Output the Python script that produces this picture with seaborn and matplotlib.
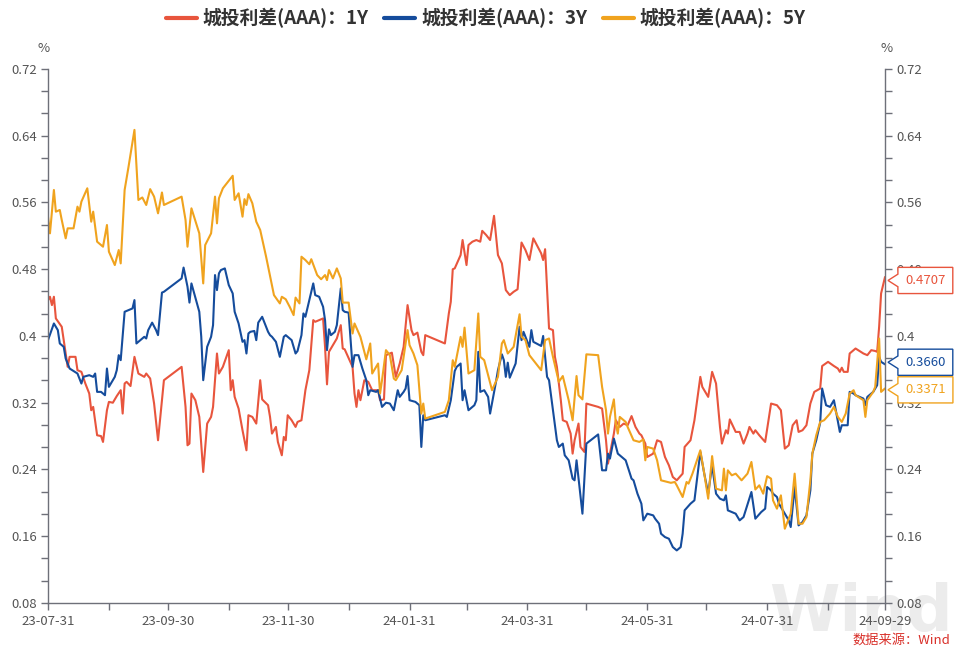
import numpy as np
import pandas as pd
import matplotlib
matplotlib.use("Agg")
import matplotlib.pyplot as plt
from matplotlib.lines import Line2D
from matplotlib.path import Path
from matplotlib.ticker import FixedLocator, FuncFormatter, AutoMinorLocator
import seaborn as sns

# series names / colours
LABELS = ["城投利差(AAA)：1Y", "城投利差(AAA)：3Y", "城投利差(AAA)：5Y"]
COLORS = ["#e8553d", "#154c9c", "#f0a31e"]

# 1Y spread (%)
DATES_1Y = [
    "23-07-31", "23-08-01", "23-08-02", "23-08-03", "23-08-04", "23-08-07", "23-08-08", "23-08-09", "23-08-10", "23-08-11",
    "23-08-14", "23-08-15", "23-08-17", "23-08-19", "23-08-21", "23-08-22", "23-08-23", "23-08-25", "23-08-27", "23-08-28",
    "23-08-30", "23-08-31", "23-09-02", "23-09-04", "23-09-06", "23-09-07", "23-09-08", "23-09-09", "23-09-11", "23-09-13",
    "23-09-15", "23-09-18", "23-09-19", "23-09-21", "23-09-23", "23-09-25", "23-09-28", "23-10-07", "23-10-09", "23-10-10",
    "23-10-11", "23-10-12", "23-10-14", "23-10-16", "23-10-18", "23-10-20", "23-10-22", "23-10-23", "23-10-25", "23-10-26",
    "23-10-28", "23-10-31", "23-11-01", "23-11-02", "23-11-03", "23-11-05", "23-11-07", "23-11-09", "23-11-10", "23-11-12",
    "23-11-14", "23-11-16", "23-11-17", "23-11-20", "23-11-21", "23-11-22", "23-11-24", "23-11-25", "23-11-27", "23-11-28",
    "23-11-29", "23-11-30", "23-12-02", "23-12-04", "23-12-05", "23-12-07", "23-12-09", "23-12-11", "23-12-13", "23-12-14",
    "23-12-16", "23-12-18", "23-12-19", "23-12-20", "23-12-21", "23-12-23", "23-12-25", "23-12-27", "23-12-28", "23-12-29",
    "24-01-02", "24-01-03", "24-01-04", "24-01-05", "24-01-06", "24-01-08", "24-01-10", "24-01-12", "24-01-15", "24-01-16",
    "24-01-18", "24-01-19", "24-01-22", "24-01-24", "24-01-26", "24-01-28", "24-01-30", "24-02-01", "24-02-02", "24-02-04",
    "24-02-06", "24-02-07", "24-02-08", "24-02-18", "24-02-20", "24-02-21", "24-02-22", "24-02-23", "24-02-26", "24-02-27",
    "24-02-29", "24-03-01", "24-03-03", "24-03-05", "24-03-07", "24-03-08", "24-03-10", "24-03-12", "24-03-14", "24-03-16",
    "24-03-18", "24-03-20", "24-03-22", "24-03-24", "24-03-26", "24-03-28", "24-03-30", "24-04-01", "24-04-03", "24-04-07",
    "24-04-08", "24-04-09", "24-04-11", "24-04-13", "24-04-14", "24-04-15", "24-04-17", "24-04-18", "24-04-20", "24-04-22",
    "24-04-23", "24-04-24", "24-04-26", "24-04-27", "24-04-29", "24-04-30", "24-05-06", "24-05-08", "24-05-10", "24-05-11",
    "24-05-12", "24-05-14", "24-05-15", "24-05-17", "24-05-19", "24-05-21", "24-05-23", "24-05-25", "24-05-27", "24-05-28",
    "24-05-30", "24-05-31", "24-06-03", "24-06-05", "24-06-07", "24-06-09", "24-06-11", "24-06-13", "24-06-15", "24-06-18",
    "24-06-19", "24-06-22", "24-06-24", "24-06-27", "24-06-28", "24-07-01", "24-07-03", "24-07-05", "24-07-07", "24-07-08",
    "24-07-10", "24-07-11", "24-07-12", "24-07-15", "24-07-17", "24-07-19", "24-07-21", "24-07-22", "24-07-24", "24-07-25",
    "24-07-27", "24-07-30", "24-08-02", "24-08-05", "24-08-07", "24-08-09", "24-08-11", "24-08-13", "24-08-15", "24-08-16",
    "24-08-18", "24-08-20", "24-08-22", "24-08-24", "24-08-27", "24-08-28", "24-08-31", "24-09-03", "24-09-05", "24-09-06",
    "24-09-07", "24-09-08", "24-09-10", "24-09-11", "24-09-14", "24-09-18", "24-09-20", "24-09-22", "24-09-24", "24-09-25",
    "24-09-26", "24-09-27", "24-09-29",
]
VALUES_1Y = [
    0.443, 0.447, 0.437, 0.447, 0.421, 0.411, 0.395, 0.379, 0.363, 0.375,
    0.375, 0.359, 0.357, 0.343, 0.331, 0.311, 0.315, 0.281, 0.280, 0.273,
    0.311, 0.321, 0.320, 0.328, 0.335, 0.307, 0.343, 0.345, 0.340, 0.375,
    0.355, 0.351, 0.355, 0.349, 0.319, 0.275, 0.347, 0.363, 0.315, 0.269,
    0.271, 0.331, 0.323, 0.303, 0.237, 0.295, 0.303, 0.315, 0.379, 0.355,
    0.363, 0.383, 0.335, 0.347, 0.327, 0.313, 0.287, 0.263, 0.305, 0.303,
    0.295, 0.347, 0.324, 0.317, 0.303, 0.283, 0.291, 0.273, 0.257, 0.279,
    0.275, 0.305, 0.299, 0.291, 0.297, 0.299, 0.335, 0.359, 0.419, 0.417,
    0.419, 0.421, 0.387, 0.342, 0.381, 0.389, 0.397, 0.413, 0.385, 0.384,
    0.363, 0.331, 0.315, 0.335, 0.323, 0.347, 0.345, 0.335, 0.335, 0.323,
    0.324, 0.377, 0.380, 0.351, 0.367, 0.387, 0.437, 0.407, 0.401, 0.404,
    0.381, 0.377, 0.401, 0.391, 0.427, 0.441, 0.480, 0.481, 0.497, 0.515,
    0.485, 0.509, 0.513, 0.515, 0.513, 0.526, 0.521, 0.515, 0.544, 0.497,
    0.487, 0.455, 0.449, 0.453, 0.456, 0.512, 0.503, 0.491, 0.517, 0.499,
    0.491, 0.504, 0.409, 0.407, 0.375, 0.363, 0.323, 0.299, 0.297, 0.283,
    0.259, 0.275, 0.295, 0.267, 0.261, 0.319, 0.315, 0.313, 0.275, 0.247,
    0.259, 0.283, 0.299, 0.291, 0.295, 0.293, 0.304, 0.291, 0.283, 0.281,
    0.271, 0.255, 0.259, 0.275, 0.273, 0.255, 0.245, 0.231, 0.227, 0.235,
    0.267, 0.275, 0.299, 0.351, 0.339, 0.327, 0.357, 0.343, 0.291, 0.271,
    0.287, 0.283, 0.300, 0.285, 0.285, 0.271, 0.283, 0.291, 0.283, 0.287,
    0.281, 0.273, 0.319, 0.317, 0.311, 0.265, 0.269, 0.293, 0.299, 0.285,
    0.287, 0.293, 0.319, 0.333, 0.337, 0.364, 0.369, 0.364, 0.361, 0.357,
    0.362, 0.357, 0.357, 0.379, 0.385, 0.379, 0.377, 0.383, 0.382, 0.381,
    0.411, 0.451, 0.4707,
]

# 3Y spread (%)
DATES_3Y = [
    "23-07-31", "23-08-03", "23-08-05", "23-08-06", "23-08-08", "23-08-09", "23-08-11", "23-08-13", "23-08-15", "23-08-17",
    "23-08-18", "23-08-21", "23-08-23", "23-08-24", "23-08-25", "23-08-27", "23-08-29", "23-08-30", "23-08-31", "23-09-03",
    "23-09-04", "23-09-05", "23-09-06", "23-09-08", "23-09-10", "23-09-12", "23-09-13", "23-09-14", "23-09-16", "23-09-18",
    "23-09-19", "23-09-20", "23-09-22", "23-09-24", "23-09-25", "23-09-27", "23-09-28", "23-10-07", "23-10-08", "23-10-10",
    "23-10-11", "23-10-12", "23-10-16", "23-10-17", "23-10-18", "23-10-20", "23-10-22", "23-10-23", "23-10-24", "23-10-25",
    "23-10-26", "23-10-27", "23-10-29", "23-10-31", "23-11-02", "23-11-03", "23-11-05", "23-11-07", "23-11-08", "23-11-09",
    "23-11-10", "23-11-11", "23-11-13", "23-11-14", "23-11-15", "23-11-17", "23-11-19", "23-11-20", "23-11-21", "23-11-22",
    "23-11-24", "23-11-26", "23-11-28", "23-11-29", "23-12-02", "23-12-04", "23-12-05", "23-12-07", "23-12-08", "23-12-09",
    "23-12-11", "23-12-13", "23-12-14", "23-12-16", "23-12-18", "23-12-19", "23-12-20", "23-12-21", "23-12-22", "23-12-24",
    "23-12-25", "23-12-27", "23-12-28", "23-12-29", "23-12-31", "24-01-02", "24-01-03", "24-01-05", "24-01-07", "24-01-09",
    "24-01-10", "24-01-11", "24-01-14", "24-01-15", "24-01-17", "24-01-19", "24-01-21", "24-01-23", "24-01-25", "24-01-26",
    "24-01-28", "24-01-29", "24-01-30", "24-01-31", "24-02-03", "24-02-05", "24-02-06", "24-02-07", "24-02-08", "24-02-18",
    "24-02-19", "24-02-21", "24-02-23", "24-02-24", "24-02-26", "24-02-27", "24-02-28", "24-03-01", "24-03-04", "24-03-05",
    "24-03-06", "24-03-07", "24-03-09", "24-03-11", "24-03-12", "24-03-15", "24-03-16", "24-03-18", "24-03-19", "24-03-20",
    "24-03-21", "24-03-22", "24-03-25", "24-03-27", "24-03-28", "24-03-29", "24-04-01", "24-04-02", "24-04-03", "24-04-07",
    "24-04-08", "24-04-10", "24-04-11", "24-04-13", "24-04-15", "24-04-16", "24-04-18", "24-04-19", "24-04-21", "24-04-23",
    "24-04-24", "24-04-25", "24-04-28", "24-04-30", "24-05-06", "24-05-08", "24-05-10", "24-05-11", "24-05-12", "24-05-14",
    "24-05-16", "24-05-17", "24-05-20", "24-05-23", "24-05-24", "24-05-26", "24-05-28", "24-05-29", "24-05-31", "24-06-03",
    "24-06-04", "24-06-06", "24-06-07", "24-06-09", "24-06-11", "24-06-13", "24-06-15", "24-06-17", "24-06-18", "24-06-19",
    "24-06-22", "24-06-24", "24-06-27", "24-06-29", "24-07-01", "24-07-03", "24-07-05", "24-07-07", "24-07-09", "24-07-10",
    "24-07-11", "24-07-13", "24-07-15", "24-07-17", "24-07-19", "24-07-23", "24-07-25", "24-07-28", "24-07-30", "24-07-31",
    "24-08-02", "24-08-03", "24-08-05", "24-08-06", "24-08-09", "24-08-11", "24-08-12", "24-08-14", "24-08-16", "24-08-18",
    "24-08-20", "24-08-22", "24-08-23", "24-08-25", "24-08-27", "24-08-28", "24-08-30", "24-09-01", "24-09-03", "24-09-06",
    "24-09-07", "24-09-10", "24-09-11", "24-09-13", "24-09-14", "24-09-18", "24-09-19", "24-09-20", "24-09-23", "24-09-24",
    "24-09-25", "24-09-26", "24-09-27", "24-09-29",
]
VALUES_3Y = [
    0.395, 0.415, 0.407, 0.391, 0.387, 0.373, 0.361, 0.358, 0.355, 0.343,
    0.351, 0.353, 0.351, 0.355, 0.333, 0.333, 0.329, 0.361, 0.339, 0.351,
    0.359, 0.377, 0.371, 0.429, 0.431, 0.433, 0.443, 0.391, 0.395, 0.399,
    0.397, 0.407, 0.416, 0.407, 0.401, 0.452, 0.453, 0.469, 0.482, 0.459,
    0.440, 0.463, 0.429, 0.399, 0.347, 0.387, 0.399, 0.413, 0.473, 0.455,
    0.475, 0.479, 0.481, 0.461, 0.451, 0.429, 0.415, 0.393, 0.395, 0.379,
    0.403, 0.405, 0.406, 0.395, 0.416, 0.423, 0.411, 0.405, 0.401, 0.399,
    0.393, 0.375, 0.399, 0.401, 0.395, 0.379, 0.382, 0.401, 0.427, 0.423,
    0.443, 0.463, 0.449, 0.447, 0.435, 0.419, 0.383, 0.408, 0.401, 0.405,
    0.413, 0.457, 0.431, 0.429, 0.428, 0.363, 0.377, 0.377, 0.361, 0.347,
    0.329, 0.335, 0.333, 0.335, 0.315, 0.320, 0.319, 0.311, 0.335, 0.327,
    0.333, 0.337, 0.352, 0.323, 0.321, 0.317, 0.267, 0.305, 0.299, 0.305,
    0.303, 0.323, 0.358, 0.363, 0.367, 0.323, 0.335, 0.311, 0.317, 0.323,
    0.381, 0.333, 0.335, 0.327, 0.307, 0.345, 0.359, 0.378, 0.371, 0.351,
    0.368, 0.350, 0.367, 0.411, 0.395, 0.405, 0.387, 0.407, 0.393, 0.388,
    0.400, 0.351, 0.347, 0.311, 0.275, 0.267, 0.271, 0.257, 0.251, 0.229,
    0.227, 0.251, 0.187, 0.271, 0.282, 0.239, 0.239, 0.259, 0.253, 0.277,
    0.259, 0.257, 0.251, 0.229, 0.227, 0.211, 0.199, 0.179, 0.187, 0.185,
    0.181, 0.175, 0.163, 0.159, 0.157, 0.147, 0.143, 0.147, 0.163, 0.191,
    0.199, 0.203, 0.261, 0.235, 0.211, 0.245, 0.211, 0.205, 0.203, 0.209,
    0.191, 0.189, 0.187, 0.179, 0.183, 0.213, 0.181, 0.189, 0.193, 0.219,
    0.215, 0.211, 0.207, 0.199, 0.187, 0.179, 0.171, 0.219, 0.173, 0.177,
    0.185, 0.215, 0.259, 0.275, 0.296, 0.337, 0.317, 0.315, 0.323, 0.285,
    0.293, 0.293, 0.333, 0.331, 0.329, 0.325, 0.317, 0.327, 0.333, 0.337,
    0.341, 0.375, 0.369, 0.3660,
]

# 5Y spread (%)
DATES_5Y = [
    "23-07-31", "23-08-01", "23-08-03", "23-08-04", "23-08-06", "23-08-07", "23-08-09", "23-08-10", "23-08-13", "23-08-15",
    "23-08-16", "23-08-17", "23-08-20", "23-08-22", "23-08-23", "23-08-25", "23-08-28", "23-08-30", "23-08-31", "23-09-03",
    "23-09-05", "23-09-06", "23-09-08", "23-09-10", "23-09-13", "23-09-15", "23-09-17", "23-09-19", "23-09-21", "23-09-23",
    "23-09-25", "23-09-27", "23-09-28", "23-10-07", "23-10-09", "23-10-10", "23-10-12", "23-10-16", "23-10-18", "23-10-19",
    "23-10-22", "23-10-24", "23-10-25", "23-10-26", "23-10-28", "23-11-02", "23-11-03", "23-11-05", "23-11-07", "23-11-08",
    "23-11-09", "23-11-10", "23-11-12", "23-11-14", "23-11-16", "23-11-19", "23-11-23", "23-11-26", "23-11-27", "23-11-29",
    "23-12-01", "23-12-03", "23-12-04", "23-12-06", "23-12-07", "23-12-09", "23-12-11", "23-12-12", "23-12-15", "23-12-17",
    "23-12-19", "23-12-20", "23-12-21", "23-12-23", "23-12-25", "23-12-27", "23-12-28", "23-12-31", "24-01-02", "24-01-03",
    "24-01-06", "24-01-09", "24-01-11", "24-01-12", "24-01-15", "24-01-16", "24-01-17", "24-01-19", "24-01-21", "24-01-23",
    "24-01-24", "24-01-27", "24-01-30", "24-01-31", "24-02-02", "24-02-04", "24-02-06", "24-02-07", "24-02-08", "24-02-18",
    "24-02-20", "24-02-22", "24-02-23", "24-02-26", "24-02-27", "24-02-28", "24-03-01", "24-03-04", "24-03-06", "24-03-07",
    "24-03-09", "24-03-13", "24-03-16", "24-03-18", "24-03-19", "24-03-21", "24-03-24", "24-03-27", "24-03-28", "24-03-30",
    "24-04-01", "24-04-03", "24-04-07", "24-04-09", "24-04-11", "24-04-13", "24-04-16", "24-04-18", "24-04-21", "24-04-23",
    "24-04-25", "24-04-26", "24-04-28", "24-04-30", "24-05-06", "24-05-08", "24-05-10", "24-05-11", "24-05-12", "24-05-14",
    "24-05-15", "24-05-16", "24-05-17", "24-05-20", "24-05-21", "24-05-24", "24-05-27", "24-05-29", "24-05-30", "24-05-31",
    "24-06-03", "24-06-05", "24-06-07", "24-06-12", "24-06-14", "24-06-15", "24-06-18", "24-06-20", "24-06-21", "24-06-23",
    "24-06-27", "24-06-29", "24-07-01", "24-07-03", "24-07-05", "24-07-08", "24-07-09", "24-07-10", "24-07-11", "24-07-13",
    "24-07-15", "24-07-18", "24-07-21", "24-07-23", "24-07-25", "24-07-27", "24-07-29", "24-07-31", "24-08-02", "24-08-03",
    "24-08-05", "24-08-07", "24-08-09", "24-08-10", "24-08-12", "24-08-14", "24-08-16", "24-08-18", "24-08-20", "24-08-22",
    "24-08-23", "24-08-25", "24-08-27", "24-08-29", "24-09-01", "24-09-03", "24-09-05", "24-09-07", "24-09-09", "24-09-11",
    "24-09-13", "24-09-14", "24-09-18", "24-09-19", "24-09-20", "24-09-23", "24-09-24", "24-09-26", "24-09-27", "24-09-29",
]
VALUES_5Y = [
    0.543, 0.523, 0.575, 0.549, 0.551, 0.539, 0.517, 0.529, 0.529, 0.555,
    0.549, 0.561, 0.577, 0.537, 0.549, 0.513, 0.507, 0.533, 0.501, 0.485,
    0.503, 0.487, 0.575, 0.603, 0.647, 0.563, 0.566, 0.557, 0.576, 0.567,
    0.547, 0.572, 0.557, 0.567, 0.539, 0.507, 0.553, 0.523, 0.463, 0.509,
    0.523, 0.567, 0.535, 0.565, 0.577, 0.592, 0.563, 0.571, 0.543, 0.564,
    0.557, 0.570, 0.559, 0.537, 0.527, 0.495, 0.449, 0.439, 0.447, 0.444,
    0.435, 0.425, 0.446, 0.439, 0.495, 0.491, 0.486, 0.492, 0.473, 0.468,
    0.473, 0.467, 0.479, 0.469, 0.481, 0.469, 0.440, 0.440, 0.403, 0.415,
    0.399, 0.372, 0.391, 0.355, 0.367, 0.331, 0.347, 0.383, 0.377, 0.349,
    0.347, 0.359, 0.407, 0.389, 0.379, 0.365, 0.307, 0.319, 0.301, 0.309,
    0.323, 0.371, 0.363, 0.399, 0.387, 0.410, 0.355, 0.359, 0.427, 0.375,
    0.371, 0.335, 0.351, 0.391, 0.395, 0.379, 0.387, 0.426, 0.399, 0.395,
    0.377, 0.371, 0.359, 0.395, 0.397, 0.375, 0.345, 0.352, 0.323, 0.299,
    0.352, 0.329, 0.324, 0.378, 0.377, 0.339, 0.311, 0.283, 0.303, 0.324,
    0.295, 0.283, 0.303, 0.297, 0.291, 0.275, 0.273, 0.276, 0.251, 0.267,
    0.265, 0.251, 0.227, 0.224, 0.225, 0.221, 0.207, 0.225, 0.223, 0.235,
    0.263, 0.235, 0.205, 0.256, 0.217, 0.215, 0.241, 0.215, 0.239, 0.233,
    0.235, 0.227, 0.235, 0.249, 0.216, 0.221, 0.211, 0.232, 0.229, 0.203,
    0.193, 0.209, 0.169, 0.175, 0.187, 0.235, 0.175, 0.175, 0.183, 0.227,
    0.259, 0.281, 0.297, 0.299, 0.307, 0.315, 0.303, 0.297, 0.307, 0.331,
    0.335, 0.329, 0.323, 0.303, 0.323, 0.333, 0.339, 0.397, 0.333, 0.3371,
]

# axis ticks
Y_TICKS = [0.08, 0.16, 0.24, 0.32, 0.40, 0.48, 0.56, 0.64, 0.72]
X_LABEL_DATES = ["23-07-31", "23-09-30", "23-11-30", "24-01-31", "24-03-31", "24-05-31", "24-07-31", "24-09-29"]
X_MINOR_DATES = ["23-08-31", "23-10-31", "23-12-31", "24-02-29", "24-04-30", "24-06-30", "24-08-31"]

FONTS = ["Noto Sans CJK SC", "DejaVu Sans"]
AXIS_COLOR = "#6e7079"
TEXT_COLOR = "#555555"

frames = []
for label, d, v in zip(LABELS, [DATES_1Y, DATES_3Y, DATES_5Y], [VALUES_1Y, VALUES_3Y, VALUES_5Y]):
    frames.append(pd.DataFrame({
        "date": pd.to_datetime(d, format="%y-%m-%d"),
        "spread": v,
        "series": label,
    }))
df = pd.concat(frames, ignore_index=True)

sns.set_theme(style="white")
plt.rcParams["font.family"] = FONTS
plt.rcParams["axes.unicode_minus"] = False

fig = plt.figure(figsize=(9.6, 6.52), dpi=100)
ax = fig.add_axes([0.05, 0.0752, 0.8719, 0.819])
ax.patch.set_alpha(0)

sns.lineplot(data=df, x="date", y="spread", hue="series", hue_order=LABELS,
             palette=dict(zip(LABELS, COLORS)), estimator=None, linewidth=1.5,
             legend=False, ax=ax)

x0 = pd.to_datetime(X_LABEL_DATES[0], format="%y-%m-%d")
x1 = pd.to_datetime(X_LABEL_DATES[-1], format="%y-%m-%d")
ax.set_xlim(x0, x1)
ax.set_ylim(Y_TICKS[0], Y_TICKS[-1])
ax.set_xlabel("")
ax.set_ylabel("")

# x axis: labelled month ends + unlabelled ones in between
ax.set_xticks(pd.to_datetime(X_LABEL_DATES, format="%y-%m-%d"))
ax.set_xticklabels(X_LABEL_DATES)
ax.set_xticks(pd.to_datetime(X_MINOR_DATES, format="%y-%m-%d"), minor=True)

fmt = FuncFormatter(lambda v, _: f"{v:g}")

ax2 = ax.twinx()
for a in (ax, ax2):
    a.set_ylim(Y_TICKS[0], Y_TICKS[-1])
    a.yaxis.set_major_locator(FixedLocator(Y_TICKS))
    a.yaxis.set_major_formatter(fmt)
    a.yaxis.set_minor_locator(AutoMinorLocator(3))
    a.tick_params(which="both", direction="out", length=5, width=1, color=AXIS_COLOR,
                  labelcolor=TEXT_COLOR, labelsize=9.5, pad=3)
    for s in a.spines.values():
        s.set_color(AXIS_COLOR)
        s.set_linewidth(1)
    a.spines["top"].set_visible(False)
    a.set_ylabel("")
    a.grid(False)
ax.tick_params(axis="x", which="both", bottom=True, pad=4)
ax.spines["right"].set_visible(False)
ax2.spines["left"].set_visible(False)
ax2.spines["bottom"].set_visible(False)

# unit labels
ax.annotate("%", xy=(0, 1), xycoords="axes fraction", xytext=(-3, 15),
            textcoords="offset points", ha="center", va="center",
            fontsize=9.5, color=TEXT_COLOR)
ax.annotate("%", xy=(1, 1), xycoords="axes fraction", xytext=(1, 15),
            textcoords="offset points", ha="center", va="center",
            fontsize=9.5, color=TEXT_COLOR)


# tag-shaped box for the end-of-line value labels
def tag_box(x0, y0, width, height, mutation_size):
    px, py = 0.55 * mutation_size, 0.5 * mutation_size
    left, right = x0 - px, x0 + width + px
    bottom, top = y0 - py, y0 + height + py
    mid = (bottom + top) / 2
    notch = 0.24 * (top - bottom)
    tip = left - 0.75 * mutation_size
    verts = [(left, top), (right, top), (right, bottom), (left, bottom),
             (left, mid - notch), (tip, mid), (left, mid + notch), (left, top)]
    return Path(verts, closed=True)


# drawn on the twin axes so the boxes sit over the right-hand tick labels
end_dates = [DATES_1Y[-1], DATES_3Y[-1], DATES_5Y[-1]]
end_vals = [VALUES_1Y[-1], VALUES_3Y[-1], VALUES_5Y[-1]]
y_shift = [-2.5, 1.5, -1.0]
for d, v, c, dy in zip(end_dates, end_vals, COLORS, y_shift):
    ax2.annotate(f"{v:.4f}", xy=(pd.to_datetime(d, format="%y-%m-%d"), v),
                 xytext=(14.5, dy), textcoords="offset points", ha="left", va="center",
                 color=c, fontsize=9.5, annotation_clip=False, zorder=5,
                 bbox=dict(boxstyle=tag_box, fc="white", ec=c, lw=1))

# legend
handles = [Line2D([], [], color=c, lw=3) for c in COLORS]
fig.legend(handles, LABELS, loc="center", bbox_to_anchor=(0.506, 0.972), ncol=3,
           frameon=False, handlelength=1.65, handletextpad=0.3, columnspacing=0.85,
           labelcolor="#333333", prop=dict(family=FONTS, size=13.5, weight="bold"))

# watermark and source
fig.text(0.992, 0.012, "Wind", ha="right", va="bottom", fontsize=46, fontweight="bold",
         color="#ececec", family=["DejaVu Sans"], zorder=-1)
fig.text(0.99, 0.018, "数据来源：Wind", ha="right", va="center", fontsize=9.5,
         color="#d9302a")

fig.savefig("out.png", dpi=100)
